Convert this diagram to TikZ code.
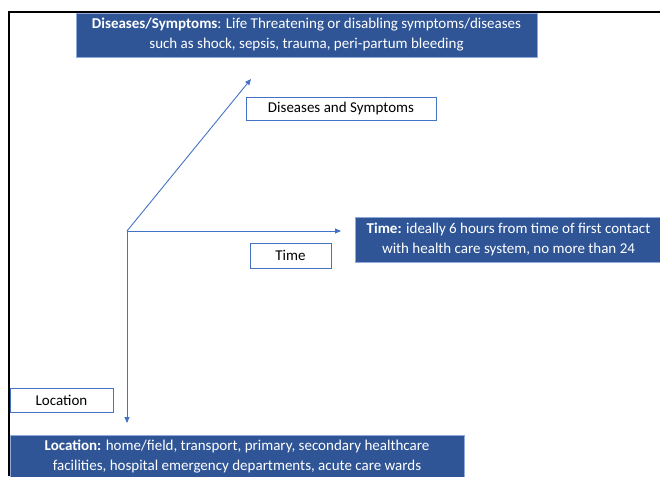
\documentclass[tikz,border=0pt]{standalone}
\usepackage{fontspec}
\setmainfont{Carlito}
\usepackage{xcolor}
\usepackage{tikz}
\usetikzlibrary{arrows.meta}
\definecolor{AxisBlue}{RGB}{68, 114, 196}
\definecolor{BoxBlue}{RGB}{47, 85, 151}

\tikzset{
    infobox/.style={fill=BoxBlue, draw=AxisBlue!60, text=white, align=center,
        inner sep=0pt, font=\fontsize{15}{20}\selectfont},
    axislabel/.style={draw=AxisBlue, thin, fill=white, inner sep=0pt,
        font=\fontsize{15}{17}\selectfont},
    axis/.style={AxisBlue, line width=0.9pt, -{Triangle[length=6pt, width=5pt]}}
}

\begin{document}
\begin{tikzpicture}[x=1pt, y=-1pt]
        \useasboundingbox (0,0) rectangle (660,476);

        % Frame
        \draw[line width=2pt] (8,12) -- (660,12);
        \draw[line width=1.5pt] (9,12) -- (9,476);

        % Axes
        \coordinate (origin) at (127,231);
        \coordinate (diseasesEnd) at (251,79);
        \coordinate (timeEnd) at (341,231);
        \coordinate (locationEnd) at (127,423);
        \draw[axis] (origin) -- (diseasesEnd);
        \draw[axis] (origin) -- (timeEnd);
        \draw[axis] (origin) -- (locationEnd);

        % Axis labels
        \node[axislabel, minimum width=190, minimum height=23] (diseasesLabel) at (341,108.5) {Diseases and Symptoms};
        \node[axislabel, minimum width=81, minimum height=25] (timeLabel) at (290.5,255.5) {Time};
        \node[axislabel, minimum width=103, minimum height=24] (locationLabel) at (61.5,400) {Location};

        % Descriptions
        \node[infobox, minimum width=461, minimum height=44] (diseasesInfo) at (306.5,35)
            {\textbf{Diseases/Symptoms}: Life Threatening or disabling symptoms/diseases\\
             such as shock, sepsis, trauma, peri-partum bleeding};
        \node[infobox, minimum width=307, minimum height=45] (timeInfo) at (508.5,239.5)
            {\textbf{Time:} ideally 6 hours from time of first contact\\
             with health care system, no more than 24};
        \node[infobox, minimum width=454, minimum height=43] (locationInfo) at (237,456.5)
            {\textbf{Location:} home/field, transport, primary, secondary healthcare\\
             facilities, hospital emergency departments, acute care wards};
    \end{tikzpicture}
\end{document}
